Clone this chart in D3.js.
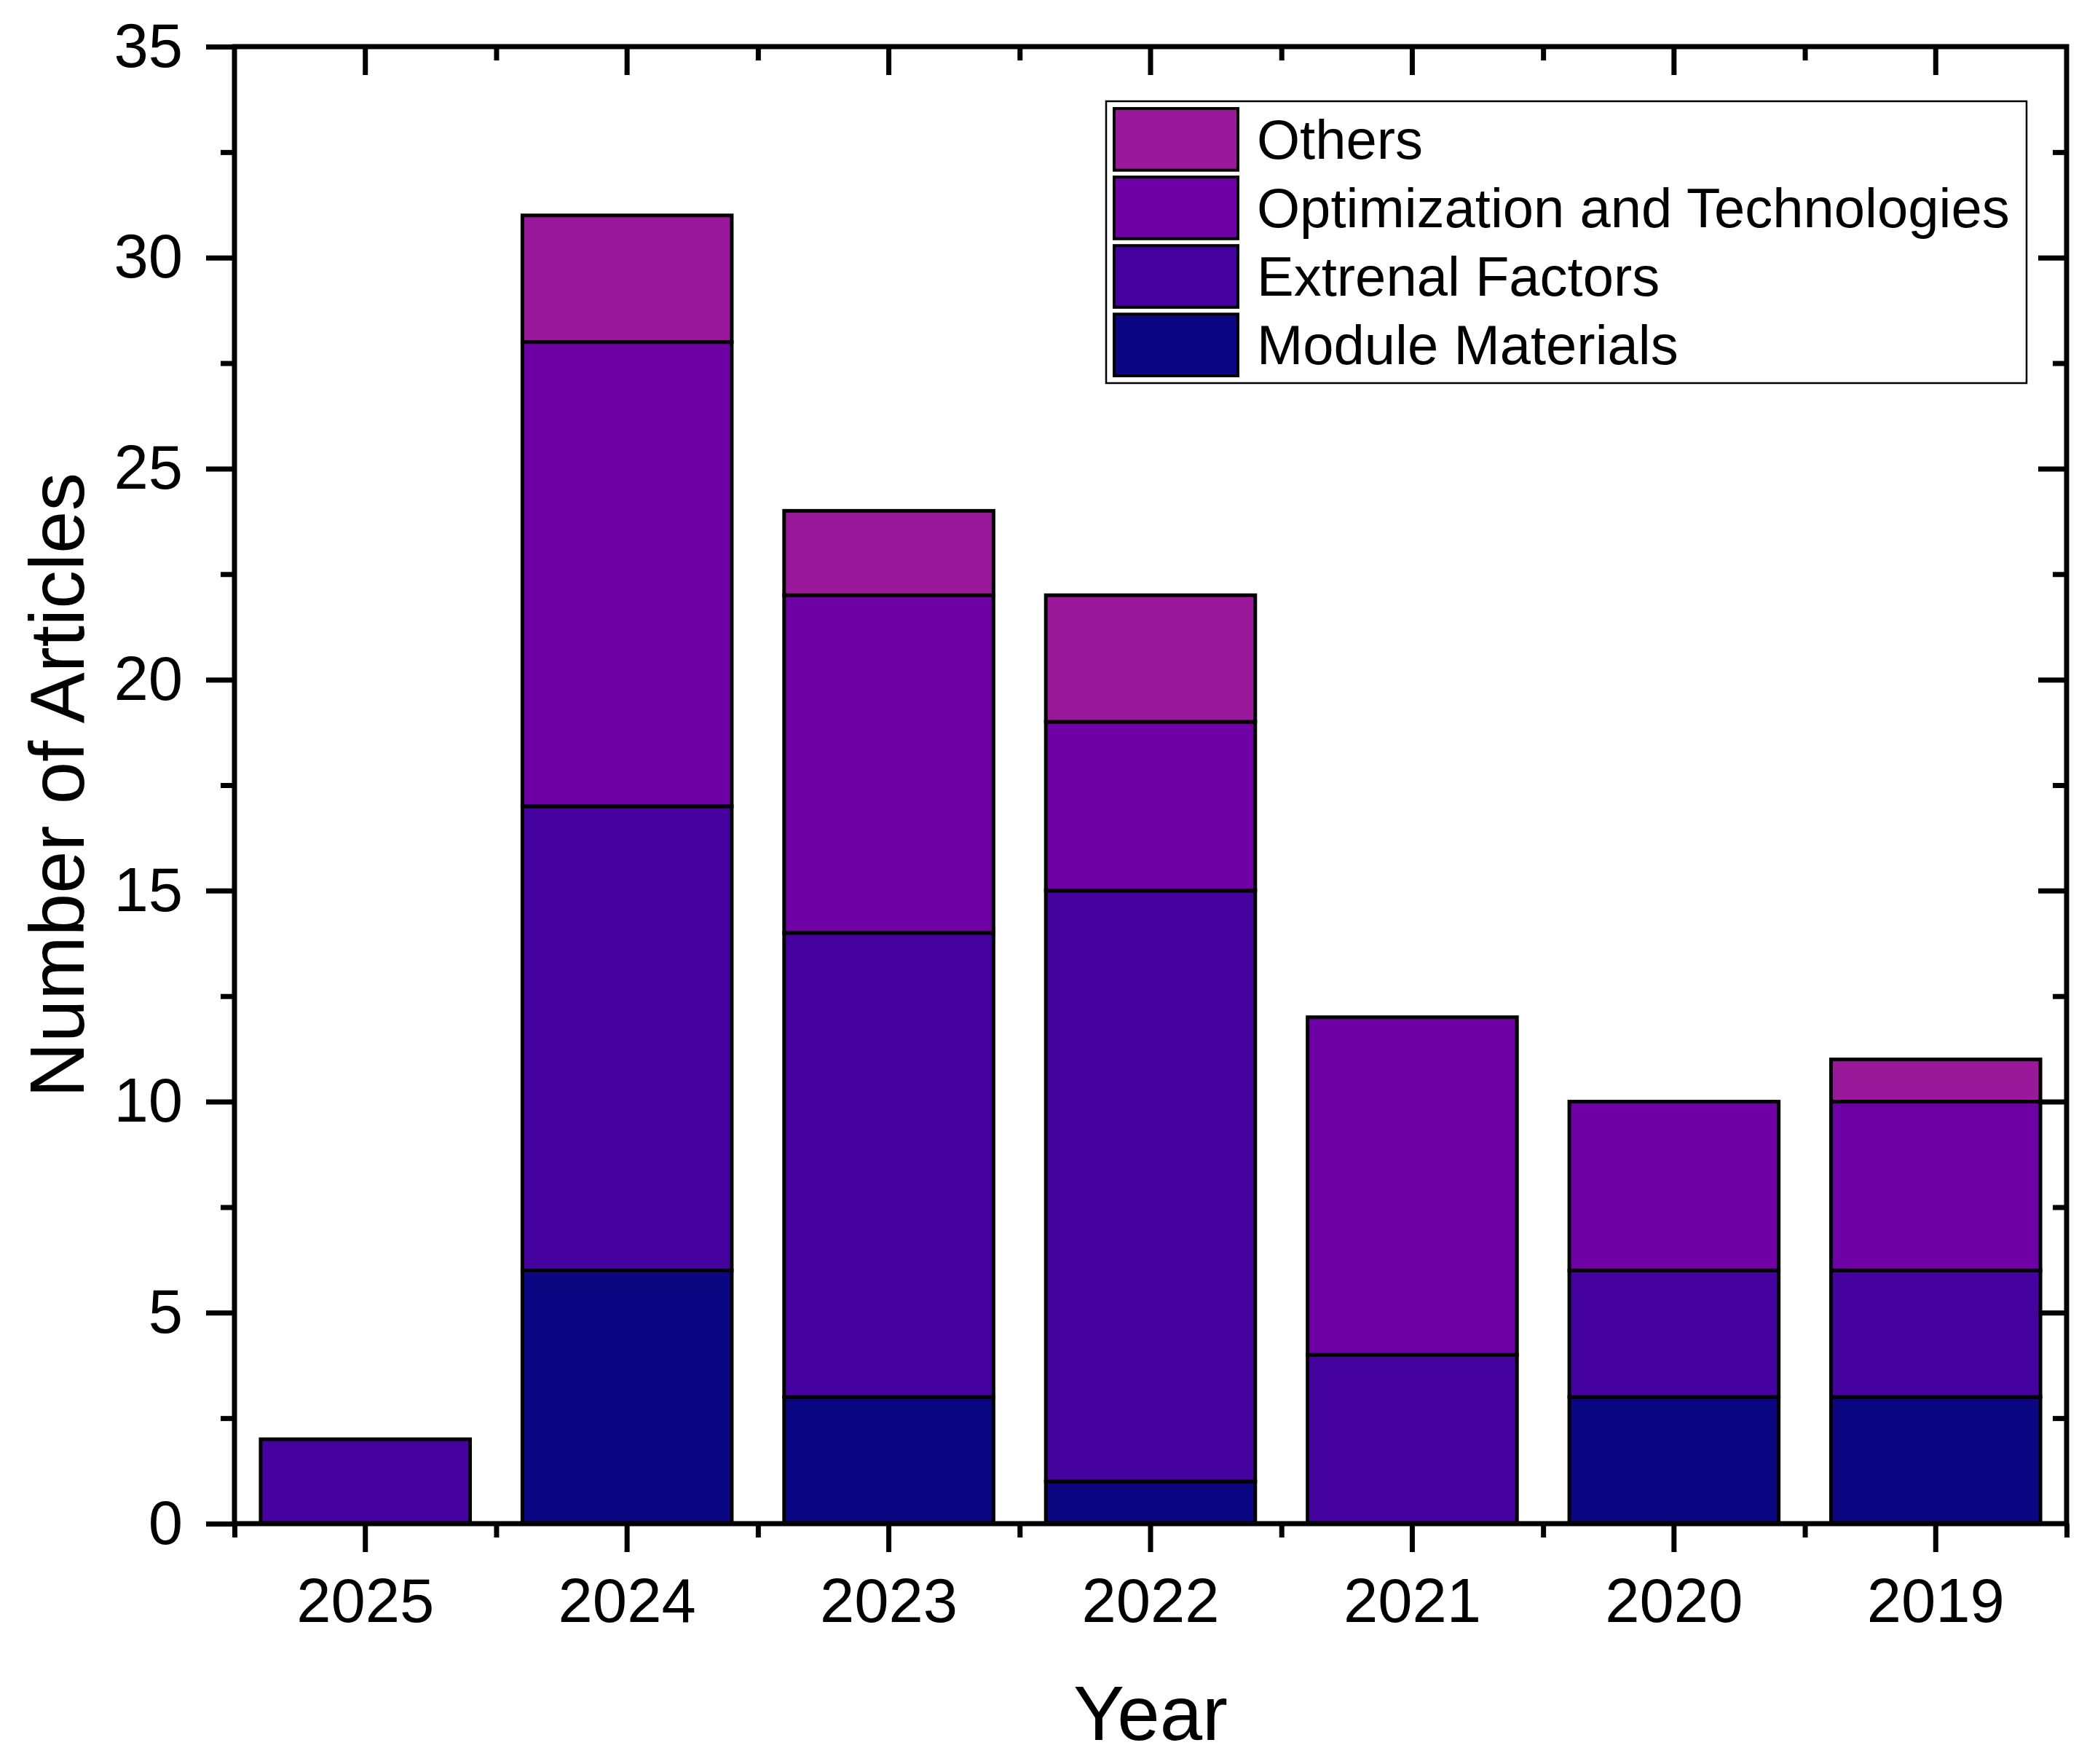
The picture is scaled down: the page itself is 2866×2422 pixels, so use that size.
<!DOCTYPE html>
<html>
<head>
<meta charset="utf-8">
<script src="https://cdn.jsdelivr.net/npm/d3@7"></script>
<style>
  body { margin: 0; background: #fff; }
  svg { display: block; font-family: "Liberation Sans", Arial, sans-serif; }
</style>
</head>
<body>
<div id="chart"></div>
<script>
// data
const years = ['2025', '2024', '2023', '2022', '2021', '2020', '2019'];
const seriesNames = ['Module Materials', 'Extrenal Factors', 'Optimization and Technologies', 'Others'];
const moduleMaterials = [0, 6, 3, 1, 0, 3, 3];
const externalFactors = [2, 11, 11, 14, 4, 3, 3];
const optimization = [0, 11, 8, 4, 8, 4, 4];
const others = [0, 3, 2, 3, 0, 0, 1];
const seriesColors = ['#0b0783', '#45029f', '#6e00a6', '#9a199b'];
const yTicks = [0, 5, 10, 15, 20, 25, 30, 35];
const yMinorTicks = [2.5, 7.5, 12.5, 17.5, 22.5, 27.5, 32.5];

const width = 2866;
const height = 2422;
const margin = { top: 64, right: 28, bottom: 330, left: 322 };
const innerW = width - margin.left - margin.right;
const innerH = height - margin.top - margin.bottom;

const table = years.map((y, i) => ({
  year: y,
  'Module Materials': moduleMaterials[i],
  'Extrenal Factors': externalFactors[i],
  'Optimization and Technologies': optimization[i],
  'Others': others[i]
}));
const stacked = d3.stack().keys(seriesNames)(table);

const svg = d3.select('#chart')
  .append('svg')
  .attr('width', width)
  .attr('height', height);

const chart = svg.append('g')
  .attr('transform', `translate(${margin.left},${margin.top})`);

const x = d3.scaleBand()
  .domain(years)
  .range([0, innerW])
  .paddingInner(0.2)
  .paddingOuter(0.1);
const xEdge = d3.scaleLinear()
  .domain([0, years.length])
  .range([0, innerW]);
const y = d3.scaleLinear()
  .domain([0, 35])
  .range([innerH, 0]);
const color = d3.scaleOrdinal()
  .domain(seriesNames)
  .range(seriesColors);

// bars
chart.selectAll('.layer')
  .data(stacked)
  .enter()
  .append('g')
  .classed('layer', true)
  .attr('fill', d => color(d.key))
  .selectAll('rect')
  .data(d => d.filter(s => s[1] - s[0] > 0))
  .enter()
  .append('rect')
  .attr('x', d => x(d.data.year))
  .attr('y', d => y(d[1]))
  .attr('width', x.bandwidth())
  .attr('height', d => y(d[0]) - y(d[1]))
  .attr('stroke', '#000')
  .attr('stroke-width', 5);

function styleAxis(g) {
  g.select('.domain').remove();
  g.selectAll('line').attr('stroke', '#000').attr('stroke-width', 7);
  g.selectAll('text').attr('fill', '#000').style('font-size', '85px');
}

// bottom axis
chart.append('g')
  .attr('transform', `translate(0,${innerH})`)
  .call(d3.axisBottom(x).tickSize(39).tickSizeOuter(0).tickPadding(36))
  .call(styleAxis);
chart.append('g')
  .attr('transform', `translate(0,${innerH})`)
  .call(d3.axisBottom(xEdge).tickValues(d3.range(0, years.length + 1)).tickSize(19).tickFormat(''))
  .call(styleAxis);

// top axis, ticks inward
chart.append('g')
  .call(d3.axisBottom(x).tickSize(39).tickSizeOuter(0).tickFormat(''))
  .call(styleAxis);
chart.append('g')
  .call(d3.axisBottom(xEdge).tickValues(d3.range(1, years.length)).tickSize(19).tickFormat(''))
  .call(styleAxis);

// left axis
chart.append('g')
  .call(d3.axisLeft(y).tickValues(yTicks).tickSize(39).tickSizeOuter(0).tickPadding(32))
  .call(styleAxis);
chart.append('g')
  .call(d3.axisLeft(y).tickValues(yMinorTicks).tickSize(19).tickFormat(''))
  .call(styleAxis);

// right axis, ticks inward
chart.append('g')
  .attr('transform', `translate(${innerW},0)`)
  .call(d3.axisLeft(y).tickValues(yTicks.slice(1, -1)).tickSize(39).tickFormat(''))
  .call(styleAxis);
chart.append('g')
  .attr('transform', `translate(${innerW},0)`)
  .call(d3.axisLeft(y).tickValues(yMinorTicks).tickSize(19).tickFormat(''))
  .call(styleAxis);

// frame
chart.append('rect')
  .attr('x', 0)
  .attr('y', 0)
  .attr('width', innerW)
  .attr('height', innerH)
  .attr('fill', 'none')
  .attr('stroke', '#000')
  .attr('stroke-width', 7);

// axis titles
svg.append('text')
  .attr('x', margin.left + innerW / 2)
  .attr('y', 2389)
  .attr('text-anchor', 'middle')
  .style('font-size', '105px')
  .text('Year');

svg.append('text')
  .attr('transform', `translate(115,${margin.top + innerH / 2}) rotate(-90)`)
  .attr('text-anchor', 'middle')
  .style('font-size', '105px')
  .text('Number of Articles');

// legend
const legendNames = seriesNames.slice().reverse();
const legend = svg.append('g')
  .attr('transform', 'translate(1519,139)');

legend.append('rect')
  .attr('width', 1264)
  .attr('height', 387)
  .attr('fill', '#fff')
  .attr('stroke', '#000')
  .attr('stroke-width', 2.5);

const row = d3.scaleBand()
  .domain(legendNames)
  .range([10, 377])
  .paddingInner(0.1)
  .paddingOuter(0);

const item = legend.selectAll('.item')
  .data(legendNames)
  .enter()
  .append('g')
  .classed('item', true)
  .attr('transform', d => `translate(0,${row(d)})`);

item.append('rect')
  .attr('x', 11)
  .attr('width', 170)
  .attr('height', row.bandwidth())
  .attr('fill', d => color(d))
  .attr('stroke', '#000')
  .attr('stroke-width', 4);

item.append('text')
  .attr('x', 207)
  .attr('y', row.bandwidth() / 2)
  .attr('dy', '0.35em')
  .style('font-size', '76px')
  .text(d => d);
</script>
</body>
</html>
